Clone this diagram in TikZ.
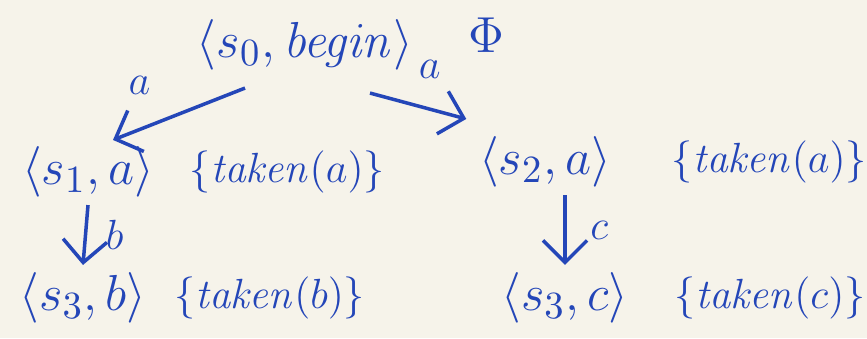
\documentclass[tikz,border=0pt]{standalone}
\usepackage{tikz}
\usetikzlibrary{arrows.meta,positioning,calc}
\definecolor{ink}{HTML}{2446B8}
\definecolor{paper}{HTML}{F6F3EA}
\tikzset{
  state/.style={text=ink, inner sep=2pt, font=\fontsize{15}{18}\selectfont},
  tset/.style={text=ink, inner sep=2pt, font=\fontsize{11.5}{14}\selectfont},
  lbl/.style={text=ink, inner sep=1pt, font=\fontsize{13}{15}\selectfont},
  trans/.style={-{Straight Barb[length=2.2mm]}, draw=ink, line width=1pt},
}
\begin{document}
\begin{tikzpicture}[x=0.01cm,y=-0.01cm]
  \fill[paper] (0,0) rectangle (867,338);
  \useasboundingbox (0,0) rectangle (867,338);
  % states and their sets
  \node[state] (s0) at (305,45) {$\langle s_0, \mathit{begin}\rangle$};
  \node[state, right=0.4cm of s0, yshift=0.1cm] (t0) {$\Phi$};
  \node[state] (s1) at (88,172) {$\langle s_1, a\rangle$};
  \node[tset, right=0.2cm of s1] (t1) {$\{\mathit{taken}(a)\}$};
  \node[state] (s2) at (545,162) {$\langle s_2, a\rangle$};
  \node[tset, right=0.45cm of s2] (t2) {$\{\mathit{taken}(a)\}$};
  \node[state] (s3b) at (83,298) {$\langle s_3, b\rangle$};
  \node[tset, right=0.12cm of s3b] (t3b) {$\{\mathit{taken}(b)\}$};
  \node[state] (s3c) at (565,298) {$\langle s_3, c\rangle$};
  \node[tset, right=0.3cm of s3c] (t3c) {$\{\mathit{taken}(c)\}$};
  % transitions
  \draw[trans] ($(s0.south)+(-60,10)$) -- node[lbl, pos=0.8, above=0.3cm] {$a$} ($(s1.north)+(25,1)$);
  \draw[trans] ($(s0.south)+(65,15)$) -- node[lbl, pos=0.62, above=0.25cm] {$a$} ($(s2.north west)+(-5,-10)$);
  \draw[trans] (s1.south) -- node[lbl, right=0.15cm] {$b$} (s3b.north);
  \draw[trans] (s3c.north |- s2.south) -- node[lbl, right=0.2cm] {$c$} (s3c.north);
\end{tikzpicture}
\end{document}
